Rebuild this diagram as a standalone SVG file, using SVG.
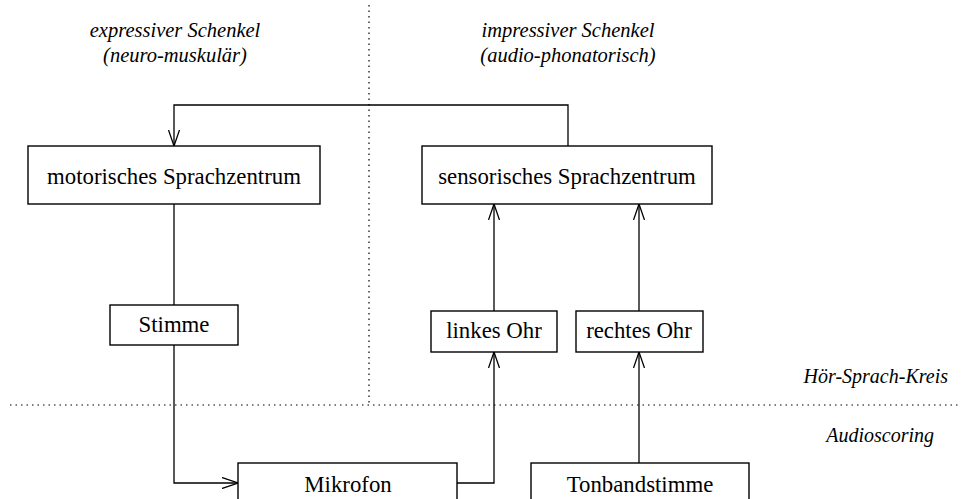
<svg xmlns="http://www.w3.org/2000/svg" width="967" height="499" viewBox="0 0 967 499">
<defs>
<style>
.box{fill:#fff;stroke:#000;stroke-width:1.4}
.t{font-family:"Liberation Serif","Times New Roman",serif;font-size:22.8px;text-anchor:middle;fill:#000}
.i{font-family:"Liberation Serif","Times New Roman",serif;font-size:20.5px;font-style:italic;fill:#000}
.c{fill:none;stroke:#000;stroke-width:1.3}
.dot{fill:none;stroke:#000;stroke-width:1.2;stroke-dasharray:1.5 4}
</style>
<marker id="a" viewBox="0 0 16 12" refX="16" refY="6" markerWidth="16" markerHeight="12" markerUnits="userSpaceOnUse" orient="auto">
<path d="M0,0.5 L16,6 L0,11.5" fill="none" stroke="#000" stroke-width="1.3"/>
</marker>
</defs>
<rect width="967" height="499" fill="#fff"/>
<g id="separators">
<line class="dot" x1="369" y1="5" x2="369" y2="405"/>
<line class="dot" x1="10" y1="405" x2="960" y2="405"/>
</g>
<g id="labels">
<text class="i" x="175" y="37" text-anchor="middle">expressiver Schenkel</text>
<text class="i" x="175" y="62" text-anchor="middle">(neuro-muskulär)</text>
<text class="i" x="568" y="37" text-anchor="middle">impressiver Schenkel</text>
<text class="i" x="568" y="62" text-anchor="middle">(audio-phonatorisch)</text>
<text class="i" x="948" y="383" text-anchor="end" style="font-size:20px">Hör-Sprach-Kreis</text>
<text class="i" x="934" y="442" text-anchor="end" style="font-size:20px">Audioscoring</text>
</g>
<g id="connectors">
<path class="c" d="M568,146 V105 H174 V146" marker-end="url(#a)"/>
<path class="c" d="M174,204 V305"/>
<path class="c" d="M174,345 V483 H238" marker-end="url(#a)"/>
<path class="c" d="M457,483 H494 V352" marker-end="url(#a)"/>
<path class="c" d="M494,311 V204" marker-end="url(#a)"/>
<path class="c" d="M639,463 V352" marker-end="url(#a)"/>
<path class="c" d="M639,311 V204" marker-end="url(#a)"/>
</g>
<g id="motorisches">
<rect class="box" x="28" y="146" width="292" height="58"/>
<text class="t" x="174" y="184">motorisches Sprachzentrum</text>
</g>
<g id="sensorisches">
<rect class="box" x="422" y="146" width="290" height="58"/>
<text class="t" x="567" y="184">sensorisches Sprachzentrum</text>
</g>
<g id="stimme">
<rect class="box" x="110" y="305" width="128" height="40"/>
<text class="t" x="174" y="332">Stimme</text>
</g>
<g id="linkes">
<rect class="box" x="431" y="311" width="126" height="41"/>
<text class="t" x="494" y="338">linkes Ohr</text>
</g>
<g id="rechtes">
<rect class="box" x="576" y="311" width="127" height="41"/>
<text class="t" x="639" y="338">rechtes Ohr</text>
</g>
<g id="mikrofon">
<rect class="box" x="238" y="463" width="219" height="50"/>
<text class="t" x="348" y="492">Mikrofon</text>
</g>
<g id="tonband">
<rect class="box" x="531" y="463" width="218" height="50"/>
<text class="t" x="640" y="492">Tonbandstimme</text>
</g>
</svg>
